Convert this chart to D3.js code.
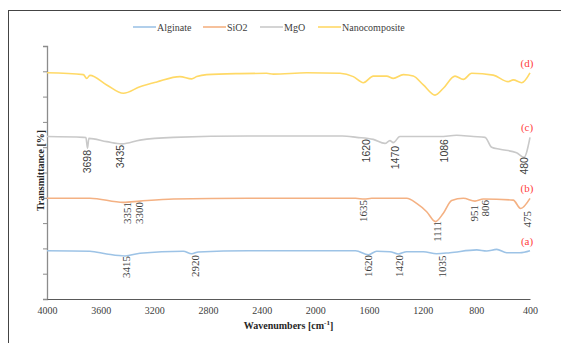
<!DOCTYPE html>
<html>
<head>
<meta charset="utf-8">
<script src="https://cdn.jsdelivr.net/npm/d3@7"></script>
<style>
  body { margin: 0; background: #fff; }
</style>
</head>
<body>
<script>
  // spectra: [wavenumber, transmittance (arbitrary offset units)]
  var alginate = [
    [4000, 19.1], [3680, 18.9], [3555, 17.8], [3419, 17.0], [3307, 18.1], [2984, 18.9],
    [2922, 17.9], [2872, 18.6], [2500, 19.1], [1700, 19.1], [1605, 17.5], [1543, 18.9],
    [1444, 18.7], [1382, 17.8], [1319, 18.7], [1195, 18.7], [1096, 17.9], [996, 18.3],
    [797, 19.4], [723, 19.0], [648, 19.6], [574, 18.3], [475, 18.3], [400, 19.1]
  ];
  var sio2 = [
    [4000, 39.8], [3680, 39.8], [3431, 38.2], [3307, 38.7], [3058, 39.5], [2500, 39.8],
    [1700, 39.8], [1635, 39.5], [1580, 39.8], [1319, 39.8], [1245, 37.8], [1170, 34.5],
    [1105, 30.6], [1046, 33.9], [984, 38.9], [897, 39.8], [810, 38.7], [748, 39.5],
    [525, 39.1], [470, 35.8], [400, 39.8]
  ];
  var mgo = [
    [4000, 64.2], [3729, 63.9], [3710, 63.8], [3698, 59.6], [3688, 63.5], [3555, 62.2],
    [3441, 61.3], [3307, 62.8], [3058, 63.9], [2500, 64.4], [1800, 64.4], [1692, 63.9],
    [1568, 63.1], [1481, 61.5], [1444, 62.6], [1419, 61.8], [1370, 64.2], [1071, 64.2],
    [947, 64.7], [822, 64.2], [735, 63.9], [686, 60.0], [624, 59.2], [500, 57.8],
    [445, 56.0], [400, 63.9]
  ];
  var nano = [
    [4000, 89.4], [3729, 88.7], [3704, 87.2], [3680, 88.4], [3555, 84.6], [3431, 81.3],
    [3307, 83.9], [3182, 85.8], [3009, 87.9], [2922, 87.0], [2884, 87.9], [2810, 88.7],
    [2562, 89.1], [2363, 89.2], [2313, 88.9], [2064, 89.4], [1816, 89.2], [1717, 87.9],
    [1642, 85.5], [1568, 88.1], [1468, 88.1], [1419, 87.2], [1344, 88.7], [1270, 88.1],
    [1195, 84.6], [1108, 80.6], [1046, 83.3], [959, 88.1], [897, 86.8], [835, 89.2],
    [674, 88.5], [562, 85.9], [525, 86.6], [462, 85.5], [400, 89.4]
  ];

  var seriesNames = ["Alginate", "SiO2", "MgO", "Nanocomposite"];
  var seriesTags = ["(a)", "(b)", "(c)", "(d)"];
  var xTicks = [4000, 3600, 3200, 2800, 2400, 2000, 1600, 1200, 800, 400];

  // peak labels: text, series index, wavenumber where it sits, transmittance at its top
  var peakText = ["3415", "2920", "1620", "1420", "1035",
                  "3351", "3300", "1635", "1111", "951", "806", "475",
                  "3698", "3435", "1620", "1470", "1086", "480"];
  var peakSeries = [0, 0, 0, 0, 0, 1, 1, 1, 1, 1, 1, 1, 2, 2, 2, 2, 2, 2];
  var peakAt = [3411, 2897, 1605, 1374, 1058,
                3401, 3314, 1647, 1091, 818, 735, 420,
                3698, 3456, 1617, 1406, 1041, 445];
  var peakTop = [17.0, 17.4, 17.4, 17.4, 17.2,
                 38.3, 38.3, 39.1, 30.8, 37.2, 39.1, 34.8,
                 58.9, 60.9, 63.2, 60.5, 63.2, 56.1];

  var colors = ["#9dc3e6", "#f4b183", "#c9c9c9", "#ffd966"];
  var allData = [alginate, sio2, mgo, nano];

  var serif = "'Liberation Serif', 'Times New Roman', serif";
  var sans = "'Liberation Sans', Arial, sans-serif";

  var w = 561, h = 343;
  var margin = {top: 46, right: 31, bottom: 44, left: 47};
  var width = w - margin.left - margin.right;
  var height = h - margin.top - margin.bottom;

  var svg = d3.select("body").append("svg")
      .attr("width", w)
      .attr("height", h);

  // outer frame (runs off the right and bottom edges)
  svg.append("rect")
      .attr("x", 8.5).attr("y", 10.5)
      .attr("width", 600).attr("height", 400)
      .attr("fill", "none")
      .attr("stroke", "#444")
      .attr("stroke-width", 1);

  var chart = svg.append("g")
      .attr("transform", "translate(" + margin.left + "," + margin.top + ")");

  var x = d3.scaleLinear().domain([4000, 400]).range([0, width]);
  var y = d3.scaleLinear().domain([0, 100]).range([height, 0]);

  var yAxis = d3.axisLeft(y).tickValues(d3.range(0, 101, 10)).tickSize(4).tickFormat("");
  var xAxis = d3.axisBottom(x).tickValues(xTicks).tickSize(0).tickPadding(8)
      .tickFormat(d3.format("d"));

  var ya = chart.append("g").call(yAxis);
  ya.select(".domain").attr("stroke", "#8c8c8c").attr("stroke-width", 1.3);
  ya.selectAll(".tick line").attr("stroke", "#8c8c8c");

  var xa = chart.append("g")
      .attr("transform", "translate(0," + height + ")")
      .call(xAxis);
  xa.select(".domain").attr("stroke", "#595959").attr("stroke-width", 1);
  xa.selectAll("text")
      .style("font-family", serif)
      .style("font-size", "10px")
      .attr("fill", "#404040");

  var line = d3.line()
      .x(function(d) { return x(d[0]); })
      .y(function(d) { return y(d[1]); })
      .curve(d3.curveMonotoneX);

  chart.selectAll(".spectrum")
      .data(allData)
      .enter()
        .append("path")
        .classed("spectrum", true)
        .attr("d", line)
        .attr("fill", "none")
        .attr("stroke", function(d, i) { return colors[i]; })
        .attr("stroke-width", 1.6)
        .attr("stroke-linejoin", "round");

  // (a)..(d) tags above the right end of each trace
  chart.selectAll(".tag")
      .data(allData)
      .enter()
        .append("text")
        .classed("tag", true)
        .attr("x", x(400) - 3)
        .attr("y", function(d) { return y(d[0][1]) - 6; })
        .attr("text-anchor", "middle")
        .style("font-family", serif)
        .style("font-size", "11px")
        .attr("fill", "#ff4040")
        .text(function(d, i) { return seriesTags[i]; });

  // rotated peak labels
  chart.selectAll(".peak")
      .data(peakText)
      .enter()
        .append("text")
        .classed("peak", true)
        .attr("transform", function(d, i) {
          return "translate(" + x(peakAt[i]) + "," + y(peakTop[i]) + ") rotate(-90)";
        })
        .attr("text-anchor", "end")
        .attr("dy", "0.35em")
        .style("font-size", function(d, i) { return peakSeries[i] == 2 ? "10.5px" : "11px"; })
        .style("font-family", function(d, i) { return peakSeries[i] == 2 ? sans : serif; })
        .attr("fill", "#404040")
        .text(function(d) { return d; });

  // axis titles
  var xt = chart.append("text")
      .attr("x", width / 2)
      .attr("y", height + 30)
      .attr("text-anchor", "middle")
      .style("font-family", serif)
      .style("font-size", "10px")
      .attr("font-weight", "bold")
      .attr("fill", "#262626");
  xt.append("tspan").text("Wavenumbers [cm");
  xt.append("tspan").attr("dy", -4).style("font-size", "7px").text("-1");
  xt.append("tspan").attr("dy", 4).text("]");

  chart.append("text")
      .attr("transform", "translate(-3," + (height / 2 - 2) + ") rotate(-90)")
      .attr("text-anchor", "middle")
      .style("font-family", serif)
      .style("font-size", "10px")
      .attr("font-weight", "bold")
      .attr("fill", "#262626")
      .text("Transmittance [%]");

  // legend
  var legendX = [133, 203, 260, 318];
  var legend = svg.selectAll(".legend")
      .data(seriesNames)
      .enter()
        .append("g")
        .classed("legend", true)
        .attr("transform", function(d, i) { return "translate(" + legendX[i] + ",27)"; });
  legend.append("line")
      .attr("x1", 0).attr("x2", 23)
      .attr("stroke", function(d, i) { return colors[i]; })
      .attr("stroke-width", 1.6);
  legend.append("text")
      .attr("x", 24)
      .attr("dy", "0.35em")
      .style("font-family", serif)
      .style("font-size", "10px")
      .attr("fill", "#404040")
      .text(function(d) { return d; });
</script>
</body>
</html>
